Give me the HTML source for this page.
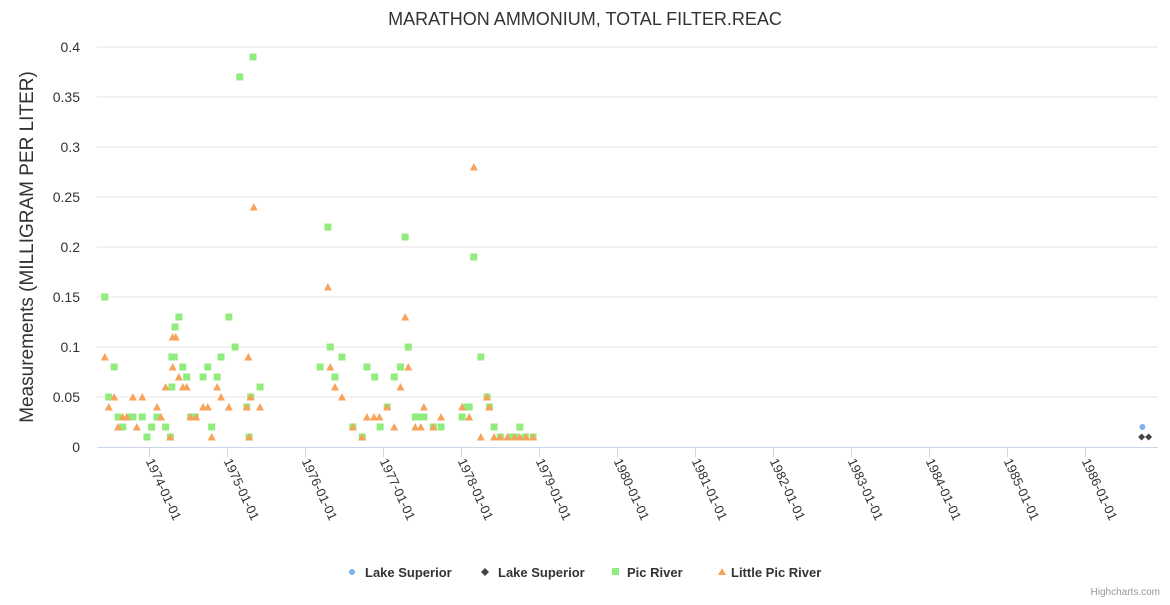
<!DOCTYPE html>
<html><head><meta charset="utf-8">
<style>
body{margin:0;background:#fff;font-family:"Liberation Sans",sans-serif;}
svg text{font-family:"Liberation Sans",sans-serif;}
</style></head>
<body>
<svg id="chart" width="1170" height="600" xmlns="http://www.w3.org/2000/svg">
<rect width="1170" height="600" fill="#fff"/>
<text x="585" y="25" text-anchor="middle" font-size="18" fill="#333">MARATHON AMMONIUM, TOTAL FILTER.REAC</text>
<text transform="translate(33,247) rotate(-90)" text-anchor="middle" font-size="19" fill="#333">Measurements (MILLIGRAM PER LITER)</text>
<g id="grid"></g>
<g id="xaxis"></g>
<g id="marks"></g>
<g font-size="13" font-weight="bold" fill="#333">
 <g><circle cx="352" cy="572" r="3" fill="#7cb5ec"/><text x="365" y="577">Lake Superior</text></g>
 <g><path d="M485 568 L489 572 L485 576 L481 572Z" fill="#434348"/><text x="498" y="577">Lake Superior</text></g>
 <g><rect x="612" y="568" width="7" height="7" fill="#90ed7d"/><text x="627" y="577">Pic River</text></g>
 <g><path d="M718 575 L722 568 L726 575Z" fill="#f7a35c"/><text x="731" y="577">Little Pic River</text></g>
</g>
<text x="1160" y="595" text-anchor="end" font-size="10" fill="#999">Highcharts.com</text>
</svg>
<script>
const yTicks=[0,0.05,0.1,0.15,0.2,0.25,0.3,0.35,0.4];
const yTickLabels=["0","0.05","0.1","0.15","0.2","0.25","0.3","0.35","0.4"];
const xTickYears=[1974,1975,1976,1977,1978,1979,1980,1981,1982,1983,1984,1985,1986];
const lakeSupA_x=[1986.73];
const lakeSupA_y=[0.02];
const lakeSupB_x=[1986.72,1986.81];
const lakeSupB_y=[0.01,0.01];
const pic_x=[1973.43,1974.38,1975.02,1974.33,1975.10,1974.29,1974.32,1974.92,1973.55,1974.43,1974.75,1974.48,1974.69,1974.87,1974.29,1975.42,1973.48,1975.30,1975.25,1973.60,1973.75,1973.79,1973.91,1974.10,1974.59,1974.53,1973.66,1974.03,1974.21,1974.80,1973.97,1974.27,1975.28,1975.16,1975.33,
1976.32,1977.32,1976.47,1978.25,1976.19,1976.79,1977.22,1976.38,1976.89,1977.14,1978.33,1977.05,1978.10,1978.36,1978.01,1977.41,1977.52,1977.47,1976.61,1976.96,1977.64,1977.74,1978.42,1978.75,1976.73,1978.50,1978.63,1978.69,1978.82,1978.92,1976.29,1977.28,1978.16,1978.07];
const pic_y=[0.15,0.13,0.13,0.12,0.10,0.09,0.09,0.09,0.08,0.08,0.08,0.07,0.07,0.07,0.06,0.06,0.05,0.05,0.04,0.03,0.03,0.03,0.03,0.03,0.03,0.03,0.02,0.02,0.02,0.02,0.01,0.01,0.01,0.37,0.39,
0.10,0.10,0.09,0.09,0.08,0.08,0.08,0.07,0.07,0.07,0.05,0.04,0.04,0.04,0.03,0.03,0.03,0.03,0.02,0.02,0.02,0.02,0.02,0.02,0.01,0.01,0.01,0.01,0.01,0.01,0.22,0.21,0.19,0.04];
const lpic_x=[1973.43,1974.30,1974.34,1975.27,1974.30,1974.38,1974.21,1974.43,1974.48,1974.87,1973.55,1973.79,1973.91,1974.92,1975.30,1973.48,1974.10,1974.69,1974.75,1975.02,1975.25,1975.42,1973.66,1973.71,1974.15,1974.53,1974.60,1973.60,1973.84,1974.27,1974.80,1975.28,1975.34,
1976.32,1977.32,1976.38,1977.22,1976.47,1978.33,1977.05,1977.52,1978.01,1978.36,1976.79,1976.88,1976.95,1977.74,1978.10,1976.61,1977.14,1977.41,1977.48,1977.64,1976.73,1978.25,1978.42,1978.50,1978.59,1978.68,1978.75,1978.83,1978.92,1976.29,1977.28,1978.16];
const lpic_y=[0.09,0.11,0.11,0.09,0.08,0.07,0.06,0.06,0.06,0.06,0.05,0.05,0.05,0.05,0.05,0.04,0.04,0.04,0.04,0.04,0.04,0.04,0.03,0.03,0.03,0.03,0.03,0.02,0.02,0.01,0.01,0.01,0.24,
0.08,0.08,0.06,0.06,0.05,0.05,0.04,0.04,0.04,0.04,0.03,0.03,0.03,0.03,0.03,0.02,0.02,0.02,0.02,0.02,0.01,0.01,0.01,0.01,0.01,0.01,0.01,0.01,0.01,0.16,0.13,0.28];

const NS='http://www.w3.org/2000/svg';
const plotL=97,plotR=1158,plotT=47,plotB=447;
const xMin=1973.33,xMax=1986.93,yMin=0,yMax=0.4;
function xs(v){return plotL+(v-xMin)/(xMax-xMin)*(plotR-plotL);}
function ys(v){return plotB-(v-yMin)/(yMax-yMin)*(plotB-plotT);}
function mk(tag,attrs,parent){const e=document.createElementNS(NS,tag);for(const k in attrs)e.setAttribute(k,attrs[k]);parent.appendChild(e);return e;}
const grid=document.getElementById('grid');
yTicks.forEach((t,i)=>{
  const y=ys(t);
  if(i>0){const l=mk('line',{x1:plotL,x2:plotR,y1:y,y2:y,stroke:'#e6e6e6','stroke-width':1},grid);
  
  }
  const tx=mk('text',{x:80,y:y+5,'text-anchor':'end','font-size':14,fill:'#333'},grid);
  tx.textContent=yTickLabels[i];
  
  
});
const xa=document.getElementById('xaxis');
const ax=mk('line',{x1:plotL,x2:plotR,y1:plotB+0.5,y2:plotB+0.5,stroke:'#ccd6eb','stroke-width':1},xa);


xTickYears.forEach(yr=>{
  const x=Math.round(xs(yr))+0.5;
  const tk=mk('line',{x1:x,x2:x,y1:plotB,y2:plotB+10,stroke:'#ccd6eb','stroke-width':1},xa);
  
  
  const t=mk('text',{transform:`translate(${x-4},${plotB+14}) rotate(65)`,'font-size':13,fill:'#333'},xa);
  t.textContent=yr+'-01-01';
  
  
});
const marks=document.getElementById('marks');
lakeSupA_x.forEach((d,i)=>{
  const c=mk('circle',{cx:xs(d),cy:ys(lakeSupA_y[i]),r:3,fill:'#7cb5ec'},marks);
  
  
});
lakeSupB_x.forEach((d,i)=>{
  const x=xs(d),y=ys(lakeSupB_y[i]);
  const p=mk('path',{d:`M${x} ${y-3.5}L${x+3.5} ${y}L${x} ${y+3.5}L${x-3.5} ${y}Z`,fill:'#434348'},marks);
  
  
});
pic_x.forEach((d,i)=>{
  const r=mk('rect',{x:xs(d)-3.5,y:ys(pic_y[i])-3.5,width:7,height:7,fill:'#90ed7d'},marks);
  
  
});
lpic_x.forEach((d,i)=>{
  const x=xs(d),y=ys(lpic_y[i]);
  const p=mk('path',{d:`M${x} ${y-4}L${x+4} ${y+3.5}L${x-4} ${y+3.5}Z`,fill:'#f7a35c'},marks);
  
  
});
</script>
</body></html>
